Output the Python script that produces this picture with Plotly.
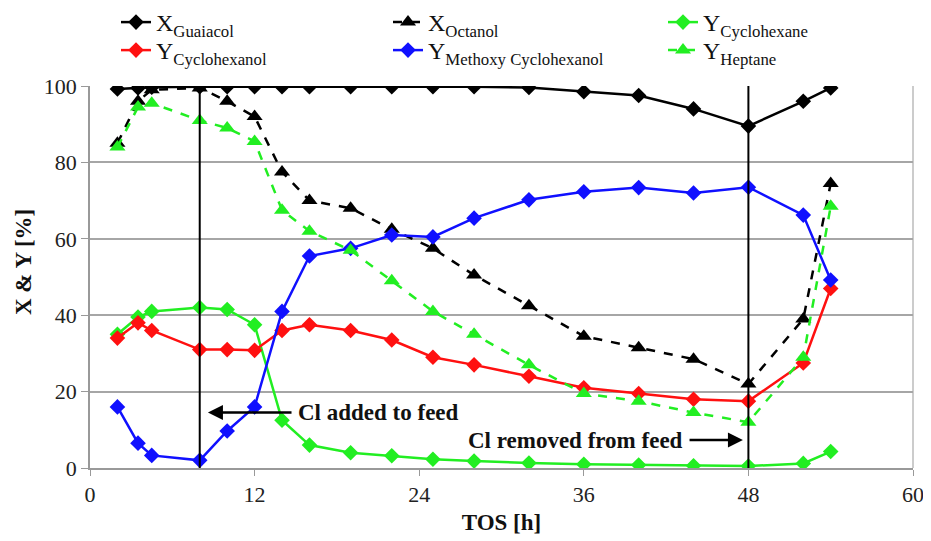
import plotly.graph_objects as go

tos = [2, 3.5, 4.5, 8, 10, 12, 14, 16, 19, 22, 25, 28, 32, 36, 40, 44, 48, 52, 54]

x_guaiacol = [99.2, 99.5, 99.7, 99.8, 99.8, 99.8, 99.8, 99.8, 99.8, 99.8, 99.8, 99.8, 99.6, 98.5, 97.5, 94.0, 89.5, 96.0, 99.5]
x_octanol = [85, 96, 99, 99.5, 96, 92, 77.5, 70, 68, 62.5, 57.5, 50.5, 42.5, 34.5, 31.5, 28.5, 22, 39, 74.5]
y_cyclohexane = [35, 39.5, 41, 42, 41.5, 37.5, 12.5, 6, 4, 3.2, 2.3, 1.8, 1.3, 1.0, 0.8, 0.6, 0.5, 1.2, 4.3]
y_cyclohexanol = [34, 38, 36, 31, 31, 30.8, 36, 37.5, 36, 33.5, 29, 27, 24, 21, 19.5, 18, 17.5, 27.5, 47]
y_methoxy = [16, 6.5, 3.3, 2, 9.7, 16, 41, 55.5, 57.5, 61, 60.5, 65.4, 70.2, 72.3, 73.4, 72, 73.5, 66.2, 49.2]
y_heptane = [84, 94.5, 95.5, 91, 89, 85.5, 67.5, 62, 57, 49, 41, 35, 27, 19.5, 17.5, 14.5, 12, 29, 68.5]

event_times = [8, 48]
x_ticks = [0, 12, 24, 36, 48, 60]
y_ticks = [0, 20, 40, 60, 80, 100]

FONT = "Liberation Serif"
W, H = 923, 533  # page body has an 8px margin
ML, MR, MT, MB = 82, 18, 78, 73
PH = H - MT - MB

# (name, values, colour, dash, symbol)
series = [
    ("X<sub>Guaiacol</sub>", x_guaiacol, "black", "solid", "diamond"),
    ("X<sub>Octanol</sub>", x_octanol, "black", "dash", "triangle-up"),
    ("Y<sub>Cyclohexane</sub>", y_cyclohexane, "#22ee22", "solid", "diamond"),
    ("Y<sub>Cyclohexanol</sub>", y_cyclohexanol, "#ff1010", "solid", "diamond"),
    ("Y<sub>Methoxy Cyclohexanol</sub>", y_methoxy, "#1010ff", "solid", "diamond"),
    ("Y<sub>Heptane</sub>", y_heptane, "#22ee22", "dash", "triangle-up"),
]
legend_names = ["legend", "legend2", "legend3", "legend4", "legend5", "legend6"]

fig = go.Figure()
for (name, vals, color, dash, sym), lg in zip(series, legend_names):
    fig.add_trace(go.Scatter(
        x=tos, y=vals, name=name, mode="lines+markers", legend=lg,
        line=dict(color=color, width=2.5, dash=dash),
        marker=dict(symbol=sym, size=12 if sym == "diamond" else 14, color=color),
    ))

for t in event_times:
    fig.add_shape(type="line", x0=t, x1=t, y0=0, y1=100, xref="x", yref="y",
                  line=dict(color="black", width=2))

# arrows
fig.add_annotation(x=8.6, y=14.5, ax=14.8, ay=14.5, xref="x", yref="y", axref="x", ayref="y",
                   text="", showarrow=True, arrowhead=2, arrowsize=1.2, arrowwidth=2.5, arrowcolor="black")
fig.add_annotation(x=15.0, y=14.5, xref="x", yref="y", text="<b>Cl added to feed</b>", showarrow=False,
                   xanchor="left", font=dict(family=FONT, size=23, color="#111"))
fig.add_annotation(x=47.6, y=7.3, ax=43.6, ay=7.3, xref="x", yref="y", axref="x", ayref="y",
                   text="", showarrow=True, arrowhead=2, arrowsize=1.2, arrowwidth=2.5, arrowcolor="black")
fig.add_annotation(x=43.4, y=7.3, xref="x", yref="y", text="<b>Cl removed from feed</b>", showarrow=False,
                   xanchor="right", font=dict(family=FONT, size=23, color="#111"))

# y-axis title as rotated text
fig.add_annotation(x=(15 - ML) / (W - ML - MR), y=(H - MB - 254) / PH, xref="paper", yref="paper",
                   text="<b>X &amp; Y [%]</b>", textangle=-90, showarrow=False,
                   xanchor="center", yanchor="middle", font=dict(family=FONT, size=23, color="#111"))

col_x = [108, 380, 655]
row_top = [-8, 20]
legend_layout = {}
for i, lg in enumerate(legend_names):
    cx = col_x[i % 3]
    ry = row_top[i // 3]
    legend_layout[lg] = dict(orientation="v", xref="container", yref="paper",
                             x=cx / W, y=1 + (MT - ry) / PH,
                             xanchor="left", yanchor="top", tracegroupgap=0,
                             font=dict(family=FONT, size=24, color="#111"),
                             bgcolor="rgba(0,0,0,0)")

fig.update_layout(
    width=W, height=H,
    margin=dict(l=ML, r=MR, t=MT, b=MB, autoexpand=False),
    paper_bgcolor="white", plot_bgcolor="white",
    font=dict(family=FONT, size=22, color="#222"),
    showlegend=True,
    **legend_layout,
    xaxis=dict(range=[0, 60], tickvals=x_ticks, showgrid=False, zeroline=False,
               showline=True, linecolor="#999", linewidth=1.5, mirror=False,
               ticks="outside", ticklen=6, tickcolor="#999", ticklabeloverflow="allow",
               title=dict(text="<b>TOS [h]</b>", font=dict(family=FONT, size=23, color="#111"), standoff=8)),
    yaxis=dict(range=[0, 100], tickvals=y_ticks, showgrid=True, gridcolor="#a6a6a6", gridwidth=1.5,
               zeroline=False, showline=True, linecolor="#999", linewidth=1.5,
               ticks="outside", ticklen=7, tickcolor="#999", ticksuffix="\u00a0\u00a0"),
)
# right border
fig.add_shape(type="line", xref="paper", yref="paper", x0=1, x1=1, y0=0, y1=1,
              line=dict(color="#bbb", width=1.5), layer="below")

fig.write_html("out.html")
